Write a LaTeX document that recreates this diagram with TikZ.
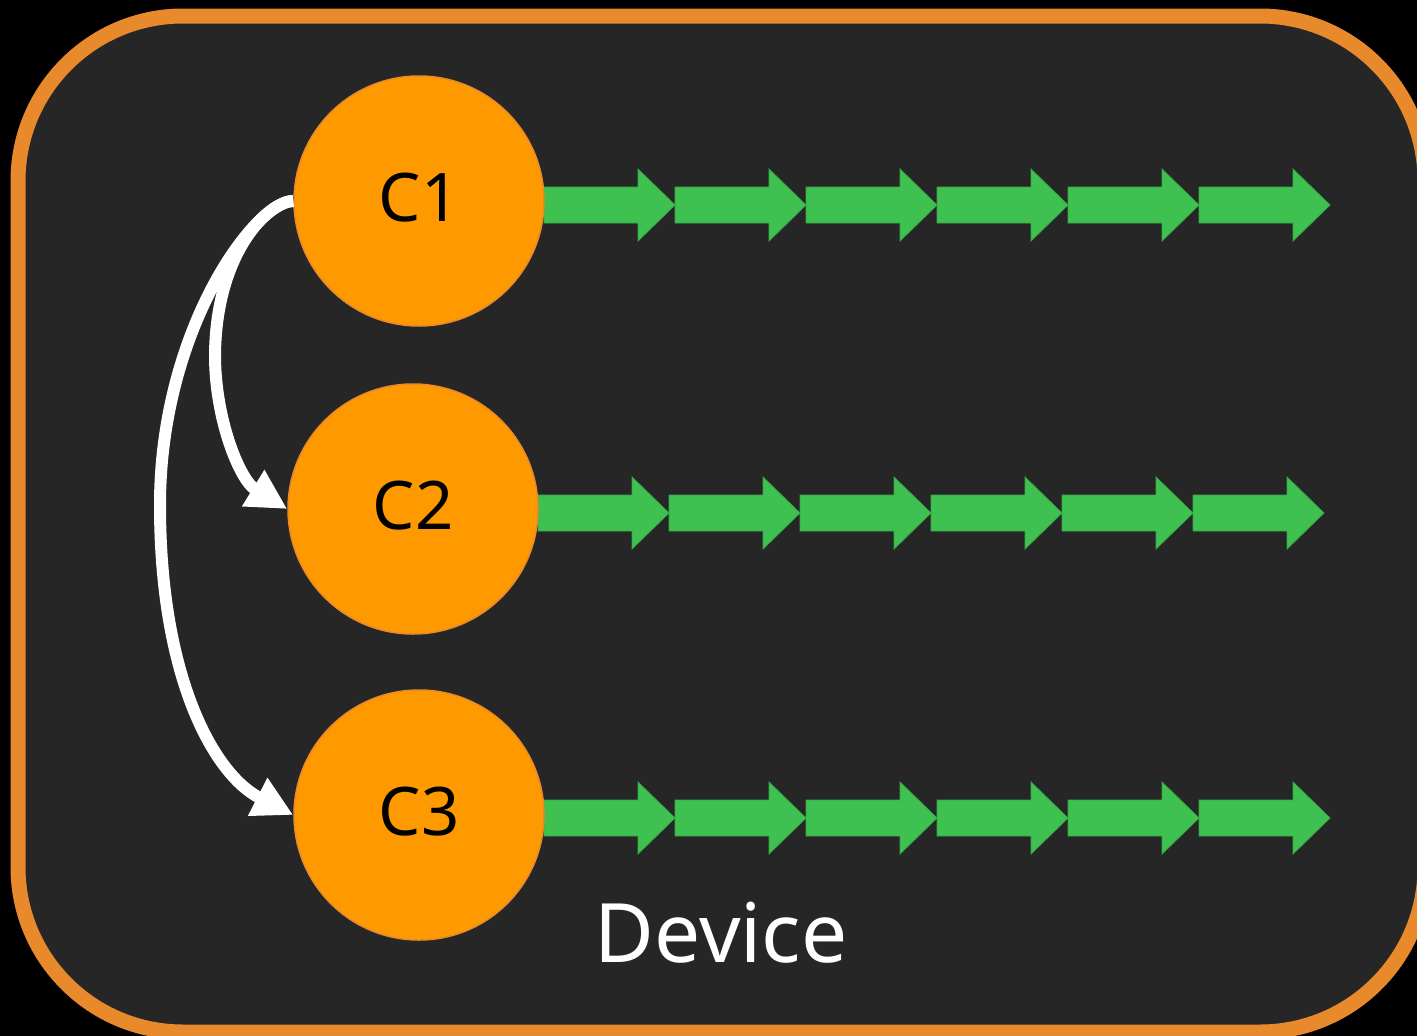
\documentclass[tikz,border=0pt]{standalone}
\usepackage{fontspec}
\setmainfont{Noto Sans}
\usetikzlibrary{arrows.meta}
\definecolor{bgdark}{HTML}{262626}
\definecolor{frameorange}{HTML}{E8892B}
\definecolor{corefill}{HTML}{FF9900}
\definecolor{coreedge}{HTML}{E8892B}
\definecolor{flowgreen}{HTML}{3EC150}
\definecolor{flowedge}{HTML}{36A847}
\tikzset{
  core/.style={circle, fill=corefill, draw=coreedge, line width=1.5, minimum size=250, inner sep=0,
    text=black, font=\fontsize{67}{80}\selectfont, text depth=8pt},
  wire/.style={draw=white, line width=12, -{Triangle[length=40,width=40]}},
  flowarrow/.pic={\filldraw[fill=flowgreen, draw=flowedge, line width=0.8]
    (0,-18) -- (94,-18) -- (94,-36) -- (131,0) -- (94,36) -- (94,18) -- (0,18) -- cycle;},
  devlabel/.style={text=white, font=\fontsize{82}{96}\selectfont, anchor=base, inner sep=0}
}
\begin{document}
\begin{tikzpicture}[x=1pt,y=-1pt]
  \useasboundingbox (0,0) rectangle (1417,1036);
  \clip (0,0) rectangle (1417,1036);
  \fill[black] (0,0) rectangle (1417,1036);
  \draw[line width=15, draw=frameorange, fill=bgdark, rounded corners=165] (18,16) rectangle (1425,1032);
  % green flow arrows
  \foreach \yy/\xx in {205/544, 513/538, 818/544}{
    \foreach \k in {0,...,5}{
      \pic at ({\xx+131*\k},\yy) {flowarrow};
    }
  }
  % cores
  \node[core] (c1) at (419,201) {C1};
  \node[core] (c2) at (413,509) {C2};
  \node[core] (c3) at (419,815) {C3};
  % white curved connectors
  \draw[wire] (c1.west) .. controls (255,201) and (160,330) .. (160,505)
                        .. controls (160,680) and (215,775) .. (c3.west);
  \draw[wire] (c1.west) .. controls (270,201) and (216,250) .. (215,355)
                        .. controls (215,420) and (240,480) .. (c2.west);
  \node[devlabel] (dev) at (721,962) {Device};
\end{tikzpicture}
\end{document}
